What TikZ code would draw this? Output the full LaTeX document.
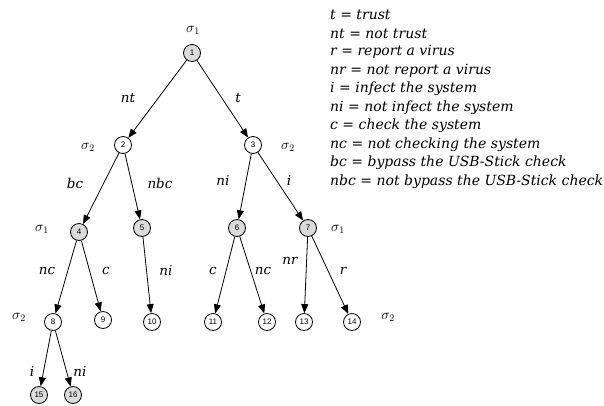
\documentclass[tikz,border=0pt]{standalone}
\usepackage{fontspec}
\setmainfont{DejaVu Serif}
\newfontfamily\numfont{Liberation Sans}
\usetikzlibrary{arrows.meta}
\tikzset{
  st/.style={circle,draw,line width=0.8pt,minimum size=17pt,inner sep=0pt,font=\numfont\fontsize{8}{9}\selectfont},
  gst/.style={st,fill=black!14},
  wst/.style={st,fill=white},
  arr/.style={line width=0.8pt,-{Triangle[length=9pt,width=7pt]}},
  lab/.style={inner sep=0pt,font=\itshape\fontsize{13.5}{14}\selectfont},
  sig/.style={inner sep=0pt,font=\fontsize{14}{14}\selectfont},
  leg/.style={anchor=west,inner sep=0pt,font=\itshape\fontsize{14}{15}\selectfont}
}
\begin{document}
\begin{tikzpicture}[x=1pt,y=-1pt]
\useasboundingbox (0,0) rectangle (604,405);
% states
\node[gst] (n1) at (192,53) {1};
\node[wst] (n2) at (123,145) {2};
\node[wst] (n3) at (253,145) {3};
\node[gst] (n4) at (79,232) {4};
\node[gst] (n5) at (142,228) {5};
\node[gst] (n6) at (237,228) {6};
\node[gst] (n7) at (308,228) {7};
\node[wst] (n8) at (53,322) {8};
\node[wst] (n9) at (103,320) {9};
\node[wst] (n10) at (152,322) {10};
\node[wst] (n11) at (213,322) {11};
\node[wst] (n12) at (267,322) {12};
\node[wst] (n13) at (304,322) {13};
\node[wst] (n14) at (352,322) {14};
\node[gst] (n15) at (39,395) {15};
\node[gst] (n16) at (73,395) {16};
% edges
\draw[arr] (n1) -- (n2);
\draw[arr] (n1) -- (n3);
\draw[arr] (n2) -- (n4);
\draw[arr] (n2) -- (n5);
\draw[arr] (n3) -- (n6);
\draw[arr] (n3) -- (n7);
\draw[arr] (n4) -- (n8);
\draw[arr] (n4) -- (n9);
\draw[arr] (n5) -- (n10);
\draw[arr] (n6) -- (n11);
\draw[arr] (n6) -- (n12);
\draw[arr] (n7) -- (n13);
\draw[arr] (n7) -- (n14);
\draw[arr] (n8) -- (n15);
\draw[arr] (n8) -- (n16);
% player labels
\node[sig] (s1) at (193,30) {$\sigma_1$};
\node[sig] (s2) at (88,147) {$\sigma_2$};
\node[sig] (s3) at (288,147) {$\sigma_2$};
\node[sig] (s4) at (42,229) {$\sigma_1$};
\node[sig] (s7) at (338,229) {$\sigma_1$};
\node[sig] (s8) at (19,317) {$\sigma_2$};
\node[sig] (s14) at (388,317) {$\sigma_2$};
% edge labels
\node[lab] (e12) at (128,98) {nt};
\node[lab] (e13) at (238,98) {t};
\node[lab] (e24) at (75,183) {bc};
\node[lab] (e25) at (160,183) {nbc};
\node[lab] (e36) at (223,181) {ni};
\node[lab] (e37) at (289,181) {i};
\node[lab] (e48) at (47,271) {nc};
\node[lab] (e49) at (106,271) {c};
\node[lab] (e510) at (166,271) {ni};
\node[lab] (e611) at (213,271) {c};
\node[lab] (e612) at (263,271) {nc};
\node[lab] (e713) at (290,261) {nr};
\node[lab] (e714) at (343,271) {r};
\node[lab] (e815) at (32,372) {i};
\node[lab] (e816) at (80,372) {ni};
% legend
\node[leg] (l1) at (330,15) {t = trust};
\node[leg] (l2) at (330,33.5) {nt = not trust};
\node[leg] (l3) at (330,52) {r = report a virus};
\node[leg] (l4) at (330,70.5) {nr = not report a virus};
\node[leg] (l5) at (330,89) {i = infect the system};
\node[leg] (l6) at (330,107.5) {ni = not infect the system};
\node[leg] (l7) at (330,126) {c = check the system};
\node[leg] (l8) at (330,144.5) {nc = not checking the system};
\node[leg] (l9) at (330,163) {bc = bypass the USB-Stick check};
\node[leg] (l10) at (330,181.5) {nbc = not bypass the USB-Stick check};
\end{tikzpicture}
\end{document}
